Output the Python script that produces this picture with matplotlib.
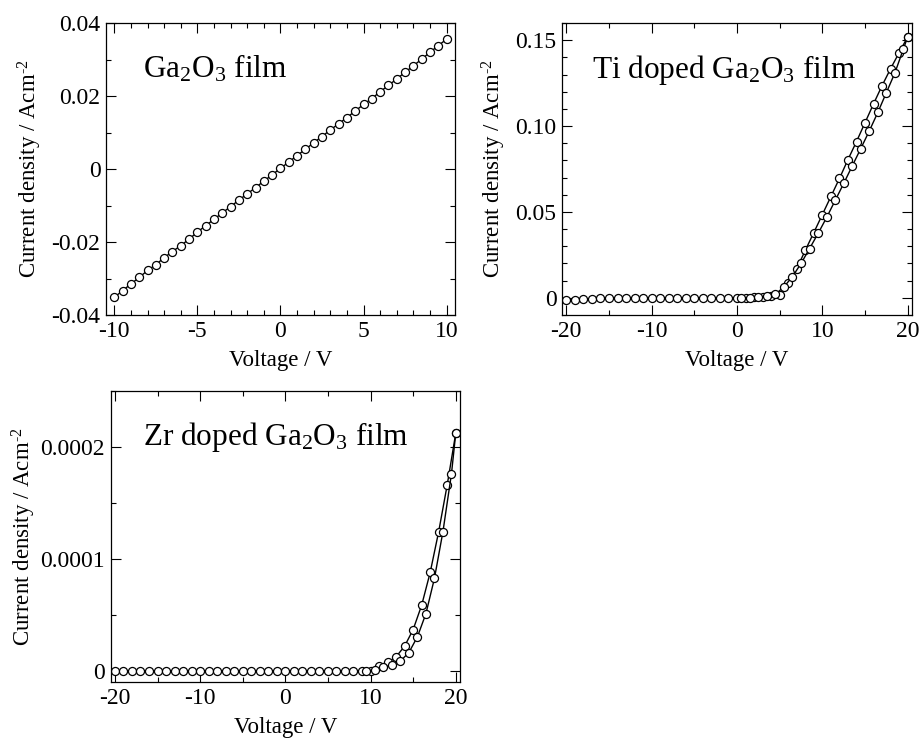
import matplotlib
matplotlib.use("Agg")
import matplotlib.pyplot as plt
from matplotlib.ticker import MultipleLocator, FixedLocator, FixedFormatter

plt.rcParams["font.family"] = ["Liberation Serif", "DejaVu Serif"]
plt.rcParams["mathtext.fontset"] = "custom"
plt.rcParams["mathtext.rm"] = "Liberation Serif"
plt.rcParams["mathtext.it"] = "Liberation Serif:italic"
plt.rcParams["mathtext.default"] = "rm"
plt.rcParams["axes.unicode_minus"] = False

# ---- Ga2O3 film ----
ga_voltage = [-10, -9.5, -9, -8.5, -8, -7.5, -7, -6.5, -6, -5.5, -5, -4.5, -4, -3.5,
              -3, -2.5, -2, -1.5, -1, -0.5, 0, 0.5, 1, 1.5, 2, 2.5, 3, 3.5, 4, 4.5,
              5, 5.5, 6, 6.5, 7, 7.5, 8, 8.5, 9, 9.5, 10]
ga_current = [-0.0352, -0.0333, -0.0315, -0.0297, -0.0278, -0.0262, -0.0243, -0.0226,
              -0.0210, -0.0192, -0.0173, -0.0155, -0.0138, -0.0120, -0.0103, -0.0085,
              -0.0068, -0.0051, -0.0033, -0.0016, 0.0002, 0.0019, 0.0037, 0.0054,
              0.0072, 0.0089, 0.0107, 0.0124, 0.0141, 0.0159, 0.0177, 0.0193, 0.0212,
              0.0229, 0.0247, 0.0265, 0.0283, 0.0301, 0.0320, 0.0338, 0.0356]

# ---- Ti doped Ga2O3 film (forward / return sweep) ----
sweep_voltage = [-20, -19, -18, -17, -16, -15, -14, -13, -12, -11, -10, -9, -8, -7, -6,
                 -5, -4, -3, -2, -1, 0, 1, 2, 3, 4, 5, 6, 7, 8, 9, 10, 11, 12, 13, 14,
                 15, 16, 17, 18, 19, 20]
ti_fwd_current = [-0.0014, -0.0010, -0.0007, -0.0005, -0.0003, -0.0002, -0.0001, -0.0001,
                  0.0, 0.0, 0.0, 0.0, 0.0, 0.0, 0.0, 0.0, 0.0, 0.0, 0.0, 0.0, 0.0,
                  0.0001, 0.0002, 0.0005, 0.0011, 0.0017, 0.0087, 0.0169, 0.0277, 0.0380,
                  0.0485, 0.0590, 0.0695, 0.0805, 0.0910, 0.1020, 0.1130, 0.1236, 0.1335,
                  0.1428, 0.1520]
ti_ret_voltage = [20, 19.5, 18.5, 17.5, 16.5, 15.5, 14.5, 13.5, 12.5, 11.5, 10.5, 9.5,
                  8.5, 7.5, 6.5, 5.5, 4.5, 3.5, 2.5, 1.5, 0.5]
ti_ret_current = [0.1520, 0.1450, 0.1310, 0.1195, 0.1080, 0.0972, 0.0869, 0.0768, 0.0666,
                  0.0567, 0.0468, 0.0375, 0.0287, 0.0200, 0.0124, 0.0064, 0.0021, 0.0008,
                  0.0003, 0.0001, 0.0]

# ---- Zr doped Ga2O3 film ----
zr_fwd_current = [0.0] * 31 + [4.7e-6, 7.4e-6, 1.25e-5, 2.2e-5, 3.68e-5, 5.85e-5,
                               8.78e-5, 1.243e-4, 1.66e-4, 2.12e-4]
zr_ret_voltage = [20, 19.5, 18.5, 17.5, 16.5, 15.5, 14.5, 13.5, 12.5, 11.5, 10.5, 9.5]
zr_ret_current = [2.12e-4, 1.76e-4, 1.243e-4, 8.25e-5, 5.1e-5, 3.03e-5, 1.63e-5, 8.6e-6,
                  5.0e-6, 3.0e-6, 0.6e-6, 0.0]

ga_yticks = [-0.04, -0.02, 0, 0.02, 0.04]
ga_ylabels = ["-0.04", "-0.02", "0", "0.02", "0.04"]
ti_yticks = [0, 0.05, 0.10, 0.15]
ti_ylabels = ["0", "0.05", "0.10", "0.15"]
zr_yticks = [0, 0.0001, 0.0002]
zr_ylabels = ["0", "0.0001", "0.0002"]

YLABEL = r"Current density / Acm$^{\text{-}2}$"
XLABEL = "Voltage / V"


def style_axes(ax, xmajor, xminor, yticks, ylabels, yminor, ypad=5):
    ax.xaxis.set_major_locator(MultipleLocator(xmajor))
    ax.xaxis.set_minor_locator(MultipleLocator(xminor))
    ax.yaxis.set_major_locator(FixedLocator(yticks))
    ax.yaxis.set_major_formatter(FixedFormatter(ylabels))
    ax.yaxis.set_minor_locator(MultipleLocator(yminor))
    ax.tick_params(which="both", direction="in", top=True, right=True,
                   labelsize=17, width=0.8)
    ax.tick_params(which="major", length=7, pad=4)
    ax.tick_params(axis="x", which="major", pad=4)
    ax.tick_params(which="minor", length=3.5)
    for sp in ax.spines.values():
        sp.set_linewidth(0.9)
    ax.set_xlabel(XLABEL, fontsize=16.5, labelpad=6)
    ax.set_ylabel(YLABEL, fontsize=16.5, labelpad=ypad)


def draw(ax, x, y):
    ax.plot(x, y, color="black", lw=1.0, marker="o", ms=5.8,
            mfc="white", mec="black", mew=0.9)


fig = plt.figure(figsize=(9.2, 7.4), dpi=100)

ax1 = fig.add_axes([0.1152, 0.5743, 0.3793, 0.3946])
draw(ax1, ga_voltage, ga_current)
ax1.set_xlim(-10.5, 10.5)
ax1.set_ylim(-0.04, 0.04)
style_axes(ax1, 5, 1, ga_yticks, ga_ylabels, 0.01)
ax1.text(0.106, 0.812, "Ga$_2$O$_3$ film", transform=ax1.transAxes,
         fontsize=22.5, va="baseline", ha="left")

ax2 = fig.add_axes([0.6109, 0.5743, 0.3804, 0.3946])
draw(ax2, sweep_voltage, ti_fwd_current)
draw(ax2, ti_ret_voltage, ti_ret_current)
ax2.set_xlim(-20.5, 20.5)
ax2.set_ylim(-0.01, 0.16)
style_axes(ax2, 10, 5, ti_yticks, ti_ylabels, 0.01)
ax2.text(0.085, 0.812, "Ti doped Ga$_2$O$_3$ film", transform=ax2.transAxes,
         fontsize=22.5, va="baseline", ha="left")

ax3 = fig.add_axes([0.1203, 0.0784, 0.3797, 0.3936])
draw(ax3, sweep_voltage, zr_fwd_current)
draw(ax3, zr_ret_voltage, zr_ret_current)
ax3.set_xlim(-20.5, 20.5)
ax3.set_ylim(-0.00001, 0.00025)
style_axes(ax3, 10, 5, zr_yticks, zr_ylabels, 0.00005, ypad=2)
ax3.text(0.092, 0.814, "Zr doped Ga$_2$O$_3$ film", transform=ax3.transAxes,
         fontsize=22.5, va="baseline", ha="left")

fig.savefig("out.png", dpi=100)
